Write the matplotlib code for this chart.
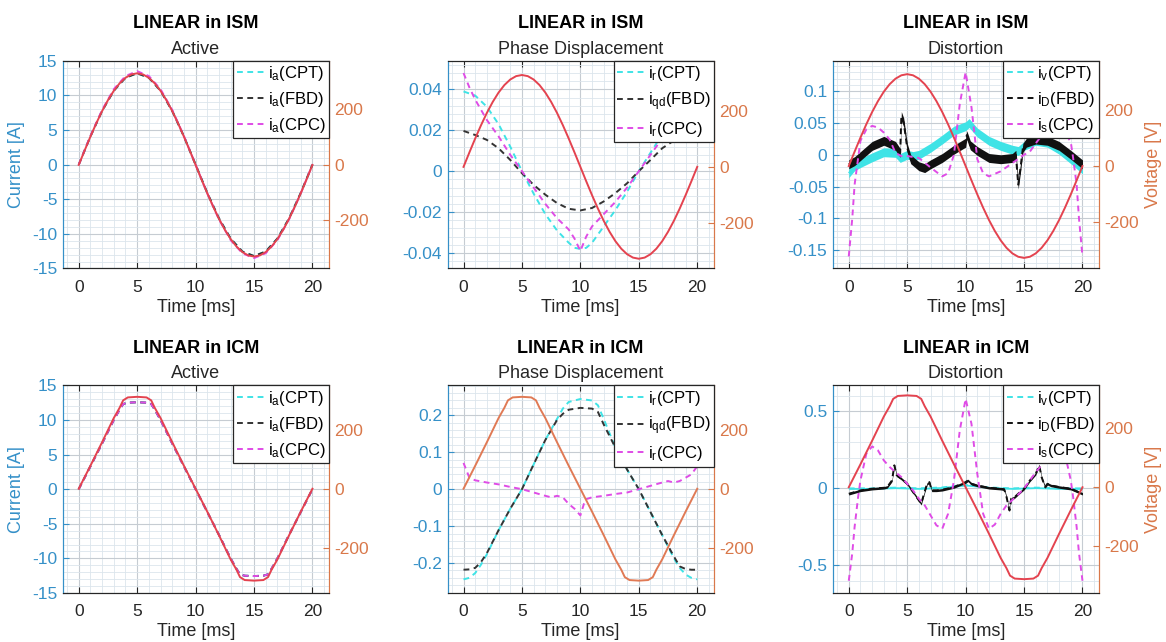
import numpy as np
import matplotlib.pyplot as plt
from matplotlib.ticker import MultipleLocator, AutoMinorLocator

plt.rcParams['font.family'] = ['Liberation Sans', 'DejaVu Sans']
plt.rcParams['mathtext.default'] = 'regular'
plt.rcParams['axes.unicode_minus'] = False

# ---- data ----
t_1ms = [0, 1, 2, 3, 4, 5, 6, 7, 8, 9, 10, 11, 12, 13, 14, 15, 16, 17, 18, 19, 20]
t_half = list(np.arange(0, 20.5, 0.5))

# supply voltage, ISM (sinusoidal)
v_ism = [0, 51.6, 102.0, 149.8, 194.0, 233.3, 267.0, 294.0, 313.8, 325.9, 330,
         325.9, 313.8, 294.0, 267.0, 233.3, 194.0, 149.8, 102.0, 51.6, 0,
         -51.6, -102.0, -149.8, -194.0, -233.3, -267.0, -294.0, -313.8, -325.9, -330,
         -325.9, -313.8, -294.0, -267.0, -233.3, -194.0, -149.8, -102.0, -51.6, 0]

# supply voltage, ICM (flattened top)
t_icm = [0, 1, 2, 3, 3.5, 3.8, 4.2, 5, 5.8, 6.2, 6.5, 7, 8, 9, 10,
         11, 12, 13, 13.5, 13.8, 14.2, 15, 15.8, 16.2, 16.5, 17, 18, 19, 20]
v_icm = [0, 78, 158, 240, 275, 300, 310, 312, 310, 300, 275, 240, 158, 78, 0,
         -78, -158, -240, -275, -300, -310, -312, -310, -300, -275, -240, -158, -78, 0]

# active currents
ia_ism = [0, 4.08, 7.76, 10.68, 12.55, 13.2, 12.55, 10.68, 7.76, 4.08, 0,
          -4.08, -7.76, -10.68, -12.55, -13.2, -12.55, -10.68, -7.76, -4.08, 0]
ia_cpc_ism = [0, 4.15, 7.9, 10.9, 12.8, 13.5, 12.8, 10.9, 7.9, 4.15, 0,
              -4.15, -7.9, -10.9, -12.8, -13.5, -12.8, -10.9, -7.9, -4.15, 0]
ia_icm = [0, 3.3, 6.6, 10.0, 11.5, 12.3, 12.5, 12.55, 12.5, 12.3, 11.5, 10.0, 6.6, 3.3, 0,
          -3.3, -6.6, -10.0, -11.5, -12.3, -12.5, -12.55, -12.5, -12.3, -11.5, -10.0, -6.6, -3.3, 0]

# phase displacement currents, ISM
t_ir_ism = [0, 0.5, 1, 2, 3, 4, 5, 6, 7, 8, 9, 9.5, 10, 10.5, 11, 12, 13, 14, 15, 16, 17, 18, 19, 19.5, 20]
ir_cpt_ism = [0.039, 0.038, 0.037, 0.0315, 0.023, 0.012, 0.0, -0.011, -0.021, -0.029, -0.035, -0.0375,
              -0.038, -0.0375, -0.035, -0.027, -0.019, -0.010, 0.0, 0.009, 0.018, 0.026, 0.033, 0.036, 0.039]
ir_cpc_ism = [0.048, 0.041, 0.035, 0.025, 0.017, 0.008, 0.0, -0.008, -0.016, -0.023, -0.0285, -0.033,
              -0.039, -0.032, -0.027, -0.021, -0.015, -0.008, 0.0, 0.008, 0.016, 0.025, 0.035, 0.041, 0.048]
iqd_ism = [0.0197, 0.0177, 0.0153, 0.0112, 0.0055, -0.001, -0.0067, -0.0115, -0.0156, -0.0184, -0.0192,
           -0.018, -0.0148, -0.0107, -0.0059, 0.0, 0.0055, 0.0112, 0.015, 0.0177, 0.0197]

# phase displacement currents, ICM
t_ir_icm = [0, 0.5, 1, 1.5, 2, 3, 4, 5, 6, 7, 8, 8.5, 9, 10, 11, 11.5, 12, 13, 14, 15, 16, 17, 18, 18.5, 19, 19.5, 20]
ir_cpt_icm = [-0.244, -0.240, -0.227, -0.204, -0.176, -0.111, -0.053, 0.0, 0.067, 0.133, 0.19, 0.218, 0.236,
              0.244, 0.240, 0.227, 0.19, 0.112, 0.053, 0.0, -0.062, -0.124, -0.187, -0.213, -0.231, -0.240, -0.244]
iqd_icm = [-0.218, -0.217, -0.213, -0.197, -0.173, -0.111, -0.053, 0.0, 0.067, 0.133, 0.187, 0.204, 0.215,
           0.22, 0.218, 0.209, 0.175, 0.112, 0.053, 0.0, -0.062, -0.124, -0.182, -0.209, -0.216, -0.218, -0.218]
t_ir_cpc_icm = [0, 0.5, 1, 2, 3, 4, 5, 6, 7, 7.5, 8, 8.5, 9, 9.5, 10, 10.3, 10.5, 11, 12, 13, 14, 15,
                16, 17, 17.5, 18, 18.5, 19, 19.5, 20]
ir_cpc_icm = [0.071, 0.031, 0.024, 0.018, 0.013, 0.006, 0.0, -0.009, -0.018, -0.022, -0.018, -0.022, -0.04,
              -0.053, -0.071, -0.04, -0.027, -0.022, -0.018, -0.013, -0.009, 0.0, 0.009, 0.018, 0.022, 0.018,
              0.022, 0.031, 0.04, 0.062]

# distortion currents, ISM
t_iv_ism = [0, 0.5, 1, 2, 3, 4, 4.4, 5, 5.5, 6, 7, 8, 9, 10, 10.3, 11, 12, 13, 14, 14.5, 15, 16, 17, 18, 19, 20]
iv_ism = [-0.029, -0.018, -0.013, -0.004, 0.004, 0.003, -0.005, 0.0, -0.002, 0.0, 0.011, 0.024, 0.038, 0.045,
          0.05, 0.035, 0.022, 0.014, 0.008, 0.006, 0.014, 0.022, 0.019, 0.008, -0.007, -0.023]
t_id_ism = [0, 0.5, 1, 2, 3, 4, 4.4, 4.5, 4.7, 5.0, 5.3, 6, 6.5, 7, 8, 9, 10, 10.1, 10.4, 11, 12, 13, 14,
            14.3, 14.5, 14.7, 14.9, 15.2, 16, 17, 18, 19, 20]
id_ism = [-0.015, -0.01, -0.002, 0.014, 0.022, 0.014, 0.003, 0.061, 0.051, 0.011, -0.007, -0.018, -0.021,
          -0.015, -0.005, 0.008, 0.019, 0.031, 0.015, 0.006, -0.005, -0.007, -0.005, 0.0, -0.047, -0.02,
          0.011, 0.019, 0.024, 0.022, 0.014, 0.0, -0.015]
t_is_ism = [0, 0.3, 0.5, 0.8, 1, 1.5, 2, 2.5, 3, 3.5, 4, 4.5, 5, 6, 7, 8, 8.5, 9, 9.5, 10, 10.5, 11, 11.5,
            12, 13, 14, 15, 15.5, 16, 16.5, 17, 17.5, 18, 18.5, 19, 19.2, 19.5, 19.7, 20]
is_ism = [-0.16, -0.10, -0.047, -0.005, 0.022, 0.040, 0.0455, 0.043, 0.035, 0.024, 0.003, -0.002, -0.002,
          -0.005, -0.02, -0.034, -0.029, 0.0, 0.08, 0.13, 0.075, -0.007, -0.029, -0.034, -0.026, -0.013,
          0.0, 0.005, 0.018, 0.03, 0.04, 0.045, 0.043, 0.035, 0.02, -0.005, -0.047, -0.10, -0.16]

# distortion currents, ICM
t_iv_icm = [0, 2, 4, 6, 8, 9, 10, 11, 12, 14, 16, 18, 20]
iv_icm = [0.0, 0.0, 0.005, 0.0, 0.006, 0.015, 0.022, 0.015, 0.006, 0.0, 0.005, 0.0, 0.0]
t_id_icm = [0, 0.5, 1, 2, 3, 3.3, 3.7, 3.9, 4.1, 4.5, 5, 5.5, 6, 6.2, 6.4, 6.7, 6.9, 7.1, 7.5, 8, 9, 10,
            10.2, 10.5, 11, 12, 13, 13.3, 13.5, 13.75, 13.9, 14.2, 14.5, 15, 15.5, 16, 16.3, 16.5, 16.8,
            17, 17.3, 18, 19, 20]
id_icm = [-0.035, -0.024, -0.013, -0.002, 0.004, 0.01, 0.052, 0.15, 0.085, 0.063, 0.03, -0.024, -0.078,
          -0.1, -0.045, 0.03, 0.041, -0.013, -0.013, -0.009, 0.009, 0.041, 0.052, 0.03, 0.019, 0.004,
          -0.002, -0.006, -0.056, -0.143, -0.067, -0.056, -0.035, -0.002, 0.052, 0.095, 0.15, 0.074,
          0.009, 0.03, 0.019, 0.009, -0.002, -0.035]
t_is_icm = [0, 0.3, 0.5, 0.8, 1, 1.5, 2, 2.5, 3, 3.5, 4, 4.5, 5, 5.5, 6, 6.5, 7, 7.5, 8, 8.5, 9, 9.5, 10,
            10.5, 11, 11.5, 12, 12.5, 13, 13.5, 14, 14.5, 15, 15.5, 16, 16.5, 17, 17.5, 18, 18.5, 19, 19.2,
            19.5, 19.7, 20]
is_icm = [-0.6, -0.42, -0.25, -0.056, 0.052, 0.225, 0.273, 0.247, 0.182, 0.139, 0.106, 0.074, 0.03, -0.013,
          -0.067, -0.11, -0.175, -0.24, -0.262, -0.165, 0.052, 0.377, 0.582, 0.42, 0.095, -0.165, -0.262,
          -0.235, -0.165, -0.11, -0.075, -0.04, 0.0, 0.052, 0.106, 0.15, 0.19, 0.236, 0.27, 0.225, 0.052,
          -0.056, -0.25, -0.42, -0.6]

# ---- style ----
BLUE = '#3590C8'
ORANGE = '#D9784A'
DARK = '#262626'
CYAN = '#3FE3E6'
BLACK = '#333333'
MAGENTA = '#DF4CE6'
RED = '#E4434F'
DASH = (0, (3, 2.3))

lefts = [0.054, 0.384, 0.7144]
bottoms = [0.5818, 0.0763]
W, H = 0.228, 0.3235

fig = plt.figure(figsize=(11.66, 6.42), dpi=100)


def draw_panel(col, row, group, subtitle, ylim, yticks, yticklabels, vlim,
               curves, labels, vt, vv, vcolor):
    ax = fig.add_axes([lefts[col], bottoms[row], W, H])
    ax.set_xlim(-1.35, 21.4)
    ax.set_ylim(ylim)
    ax.set_xticks([0, 5, 10, 15, 20])
    ax.xaxis.set_minor_locator(MultipleLocator(1))
    ax.set_yticks(yticks)
    ax.set_yticklabels(yticklabels)
    ax.yaxis.set_minor_locator(AutoMinorLocator(5))
    ax.set_axisbelow(True)
    ax.grid(which='major', color='#C6CCD2', lw=0.8)
    ax.grid(which='minor', color='#DCE5EC', lw=0.6)
    ax.tick_params(which='minor', length=0)
    ax.tick_params(axis='x', which='major', direction='in', top=True, length=4,
                   colors=DARK, labelsize=12.5, pad=8)
    ax.tick_params(axis='y', which='major', direction='in', length=4,
                   colors=BLUE, labelsize=12.5, pad=4)

    handles = []
    for i, (tt, yy, color, band) in enumerate(curves):
        z = 2 + i * 0.1
        if band:
            yy_arr = np.array(yy)
            ax.fill_between(tt, yy_arr - band, yy_arr + band, color=color, lw=0, zorder=z)
        h, = ax.plot(tt, yy, color=color, lw=1.4, ls=DASH, zorder=z + 0.05)
        handles.append(h)

    ax2 = ax.twinx()
    ax2.set_ylim(vlim)
    ax2.set_yticks([-200, 0, 200])
    ax2.tick_params(axis='y', direction='in', length=4, colors=ORANGE, labelsize=12.5, pad=4)
    ax2.plot(vt, vv, color=vcolor, lw=1.4)

    for a in (ax, ax2):
        a.spines['left'].set_color(BLUE)
        a.spines['right'].set_color(ORANGE)
        a.spines['top'].set_color(DARK)
        a.spines['bottom'].set_color(DARK)

    leg = ax2.legend(handles, labels, loc='upper right', borderaxespad=0, fontsize=12,
                     fancybox=False, framealpha=1, edgecolor=DARK, handlelength=1.8,
                     handletextpad=0.05, labelspacing=0.42, borderpad=0.2)
    leg.get_frame().set_linewidth(0.9)

    ax.set_xlabel('Time [ms]', fontsize=13, color=DARK)
    ax.xaxis.set_label_coords(0.5, -0.145)
    ax.annotate(subtitle, xy=(0.5, 1), xycoords='axes fraction', xytext=(0, 5),
                textcoords='offset points', ha='center', va='baseline', fontsize=13, color=DARK)
    ax.annotate(group, xy=(0.5, 1), xycoords='axes fraction', xytext=(0, 23.5),
                textcoords='offset points', ha='center', va='baseline', fontsize=13,
                fontweight='bold', color='black')
    if col == 0:
        ax.set_ylabel('Current [A]', fontsize=13, color=BLUE)
        ax.yaxis.set_label_coords(-0.143, 0.5)
    if col == 2:
        ax2.set_ylabel('Voltage [V]', fontsize=13, color=ORANGE)
        ax2.yaxis.set_label_coords(1.175, 0.5)
    return ax, ax2


lab_a = ['$i_a$(CPT)', '$i_a$(FBD)', '$i_a$(CPC)']
lab_r = ['$i_r$(CPT)', '$i_{qd}$(FBD)', '$i_r$(CPC)']
lab_s = ['$i_v$(CPT)', '$i_D$(FBD)', '$i_s$(CPC)']

i_ticks = [-15, -10, -5, 0, 5, 10, 15]

# ISM row
draw_panel(0, 0, 'LINEAR in ISM', 'Active', (-15, 15), i_ticks, [str(v) for v in i_ticks],
           (-373, 375),
           [(t_1ms, ia_ism, CYAN, None), (t_1ms, ia_ism, BLACK, None), (t_1ms, ia_cpc_ism, MAGENTA, None)],
           lab_a, t_half, v_ism, RED)
draw_panel(1, 0, 'LINEAR in ISM', 'Phase Displacement', (-0.0476, 0.054),
           [-0.04, -0.02, 0, 0.02, 0.04], ['-0.04', '-0.02', '0', '0.02', '0.04'], (-365, 381),
           [(t_ir_ism, ir_cpt_ism, CYAN, None), (t_1ms, iqd_ism, BLACK, None),
            (t_ir_ism, ir_cpc_ism, MAGENTA, None)],
           lab_r, t_half, v_ism, RED)
draw_panel(2, 0, 'LINEAR in ISM', 'Distortion', (-0.179, 0.148),
           [-0.15, -0.1, -0.05, 0, 0.05, 0.1], ['-0.15', '-0.1', '-0.05', '0', '0.05', '0.1'], (-368, 378),
           [(t_iv_ism, iv_ism, CYAN, 0.007), (t_id_ism, id_ism, '#111111', 0.007),
            (t_is_ism, is_ism, MAGENTA, None)],
           lab_s, t_half, v_ism, RED)

# ICM row
draw_panel(0, 1, 'LINEAR in ICM', 'Active', (-15, 15), i_ticks, [str(v) for v in i_ticks],
           (-354, 351),
           [(t_icm, ia_icm, CYAN, None), (t_icm, ia_icm, BLACK, None), (t_icm, ia_icm, MAGENTA, None)],
           lab_a, t_icm, v_icm, RED)
draw_panel(1, 1, 'LINEAR in ICM', 'Phase Displacement', (-0.281, 0.281),
           [-0.2, -0.1, 0, 0.1, 0.2], ['-0.2', '-0.1', '0', '0.1', '0.2'], (-354, 351),
           [(t_ir_icm, ir_cpt_icm, CYAN, None), (t_ir_icm, iqd_icm, BLACK, None),
            (t_ir_cpc_icm, ir_cpc_icm, MAGENTA, None)],
           lab_r, t_icm, v_icm, '#E07A55')
draw_panel(2, 1, 'LINEAR in ICM', 'Distortion', (-0.68, 0.67),
           [-0.5, 0, 0.5], ['-0.5', '0', '0.5'], (-359, 346),
           [(t_iv_icm, iv_icm, CYAN, 0.006), (t_id_icm, id_icm, '#111111', 0.008),
            (t_is_icm, is_icm, MAGENTA, None)],
           lab_s, t_icm, v_icm, RED)

fig.savefig('out.png', dpi=100)
